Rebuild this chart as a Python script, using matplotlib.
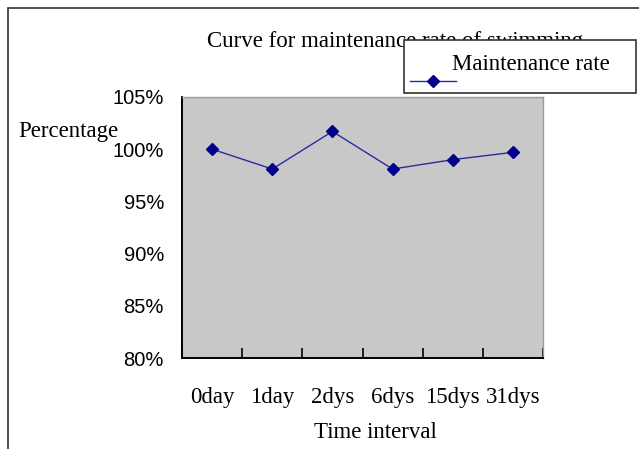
import numpy as np
import matplotlib.pyplot as plt
import matplotlib.transforms as mtransforms
from matplotlib.lines import Line2D
from matplotlib.patches import Rectangle

categories = ["0day", "1day", "2dys", "6dys", "15dys", "31dys"]
rate = [100.0, 98.1, 101.7, 98.1, 99.0, 99.7]
yticks = [80, 85, 90, 95, 100, 105]

W, H = 639, 449
fig = plt.figure(figsize=(W / 100, H / 100), dpi=100)
fig.patch.set_facecolor("white")

# outer border of the chart area
fig.patches.append(Rectangle((8 / W, -0.1), 1.2, 1 - 8 / H + 0.1, transform=fig.transFigure,
                             fill=False, edgecolor="#333333", linewidth=1.2))

ax = fig.add_axes([182 / W, 1 - 358 / H, (543 - 182) / W, (358 - 97) / H])
ax.set_facecolor("#C8C8C8")
x = np.arange(len(categories))
ax.plot(x, rate, color="#2B2B9C", linewidth=1.0, marker="D", markersize=6,
        markerfacecolor="#00008B", markeredgecolor="#00008B")

ax.set_xlim(-0.5, len(categories) - 0.5)
ax.set_ylim(80, 105)
ax.set_yticks(yticks)
ax.set_yticklabels(["%d%%" % v for v in yticks], fontfamily="Liberation Sans", fontsize=14.5)
shift = mtransforms.ScaledTranslation(0, -5 / 100, fig.dpi_scale_trans)
for lab in ax.get_yticklabels():
    lab.set_transform(lab.get_transform() + shift)
ax.set_xticks(np.arange(len(categories) + 1) - 0.5)
ax.set_xticklabels([])
for i, c in enumerate(categories):
    ax.text(i, -(398 - 358) / (358 - 97), c, transform=ax.get_xaxis_transform(), ha="center",
            va="center", fontfamily="Liberation Serif", fontsize=16.5)
ax.tick_params(axis="x", direction="in", length=7, width=1.2, color="black")
ax.tick_params(axis="y", length=0, pad=13)
for s in ["top", "right"]:
    ax.spines[s].set_color("#999999")
    ax.spines[s].set_linewidth(1.0)
for s in ["left", "bottom"]:
    ax.spines[s].set_color("black")
    ax.spines[s].set_linewidth(1.4)

fig.text(395 / W, 1 - 42 / H, "Curve for maintenance rate of swimming", ha="center", va="center",
         fontfamily="Liberation Serif", fontsize=16.5)
fig.text(18 / W, 1 - 132 / H, "Percentage", ha="left", va="center",
         fontfamily="Liberation Serif", fontsize=16.5)
fig.text(375 / W, 1 - 433 / H, "Time interval", ha="center", va="center",
         fontfamily="Liberation Serif", fontsize=16.5)

# legend box
fig.patches.append(Rectangle((404 / W, 1 - 93 / H), (636 - 404) / W, (93 - 40) / H,
                             transform=fig.transFigure, fill=True, facecolor="white",
                             edgecolor="#333333", linewidth=1.2, zorder=5))
fig.add_artist(Line2D([410 / W, 456 / W], [1 - 81 / H, 1 - 81 / H], color="#2B2B9C",
                      linewidth=1.0, zorder=6))
fig.add_artist(Line2D([433 / W], [1 - 81 / H], color="#00008B", marker="D", markersize=6,
                      linestyle="none", zorder=6))
fig.text(452 / W, 1 - 65 / H, "Maintenance rate", ha="left", va="center",
         fontfamily="Liberation Serif", fontsize=16.5, zorder=6)

fig.savefig("out.png", dpi=100)
